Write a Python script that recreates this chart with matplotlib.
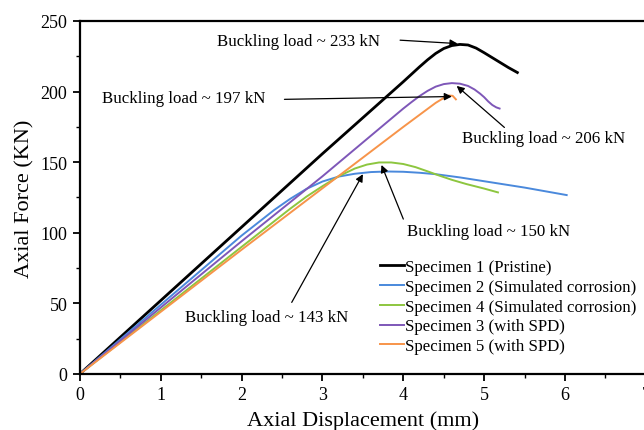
import matplotlib
matplotlib.use("Agg")
import matplotlib.pyplot as plt
from matplotlib.ticker import MultipleLocator

plt.rcParams['font.family'] = ['Liberation Serif', 'DejaVu Serif']

# Data
s1_x = [0, 1, 2, 3, 4, 4.2, 4.3, 4.4, 4.5, 4.6, 4.7, 4.8, 4.9, 5.0, 5.1, 5.2, 5.3, 5.41]
s1_y = [0, 52, 104, 156, 207, 217.5, 222.5, 227, 230.5, 232.6, 233.4, 233, 230.8, 227.5, 224, 220.5, 217, 213.5]

s2_x = [0, 1, 2, 2.2, 2.4, 2.6, 2.8, 3.0, 3.2, 3.4, 3.6, 3.8, 4.0, 4.2, 4.4, 4.7, 5.0, 5.5, 6.02]
s2_y = [0, 49, 98, 107, 116, 124, 131, 136.3, 139.8, 141.8, 143, 143.4, 143.2, 142.5, 141.5, 139.2, 136.5, 132, 126.7]

s4_x = [0, 1, 2, 2.6, 2.8, 3.0, 3.2, 3.4, 3.55, 3.7, 3.85, 4.0, 4.15, 4.3, 4.45, 4.6, 4.78, 5.0, 5.17]
s4_y = [0, 45, 90, 117, 125.5, 133, 140, 145.5, 148.3, 149.8, 149.8, 148.7, 146.5, 143.5, 140.4, 137.5, 134.5, 131.3, 128.6]

s3_x = [0, 1, 2, 3, 4.0, 4.1, 4.2, 4.3, 4.4, 4.5, 4.6, 4.7, 4.8, 4.88, 4.95, 5.0, 5.05, 5.1, 5.15, 5.19]
s3_y = [0, 47, 94, 140, 188, 192.5, 196.8, 200.5, 203.5, 205.3, 206, 205.6, 204, 201.5, 198.5, 196, 193, 190.5, 188.8, 188]

s5_x = [0, 1, 2, 3, 4, 4.4, 4.5, 4.56, 4.61, 4.65]
s5_y = [0, 44, 88, 131.5, 175, 192, 195.5, 197.2, 197, 194.5]

labels = ["Specimen 1 (Pristine)", "Specimen 2 (Simulated corrosion)",
          "Specimen 4 (Simulated corrosion)", "Specimen 3 (with SPD)",
          "Specimen 5 (with SPD)"]
colors = ["#000000", "#4a89dc", "#8dc63f", "#7e57b8", "#f7944a"]

annot_text = ["Buckling load ~ 233 kN", "Buckling load ~ 197 kN",
              "Buckling load ~ 206 kN", "Buckling load ~ 150 kN",
              "Buckling load ~ 143 kN"]

fig = plt.figure(figsize=(6.44, 4.31), dpi=100)
ax = fig.add_axes([0.124, 0.130, 0.879, 0.819])

series = [(s1_x, s1_y), (s2_x, s2_y), (s4_x, s4_y), (s3_x, s3_y), (s5_x, s5_y)]
widths = [2.0, 1.4, 1.4, 1.4, 1.4]
for (xs, ys), lab, c, w in zip(series, labels, colors, widths):
    ax.plot(xs, ys, color=c, lw=w, label=lab, solid_joinstyle='round')

ax.set_xlim(0, 7)
ax.set_ylim(0, 250)
ax.xaxis.set_major_locator(MultipleLocator(1))
ax.xaxis.set_minor_locator(MultipleLocator(0.5))
ax.yaxis.set_major_locator(MultipleLocator(50))
ax.yaxis.set_minor_locator(MultipleLocator(25))
ax.tick_params(which='major', direction='out', length=5, width=1.3, labelsize=13, pad=4)
ax.tick_params(which='minor', direction='out', length=3, width=1.0)
for sp in ax.spines.values():
    sp.set_linewidth(1.6)

ax.set_xlabel("Axial Displacement (mm)", fontsize=16, labelpad=5)
ax.set_ylabel("Axial Force (KN)", fontsize=16, labelpad=4)

fs = 12.2
arrow = dict(arrowstyle='-|>', color='black', lw=0.9, mutation_scale=11,
             shrinkA=0, shrinkB=0)
ax.text(1.69, 235.7, annot_text[0], fontsize=fs, va='center', ha='left')
ax.annotate("", xy=(4.67, 234), xytext=(3.96, 236.4), arrowprops=arrow)

ax.text(0.28, 195.8, annot_text[1], fontsize=fs, va='center', ha='left')
ax.annotate("", xy=(4.60, 196.5), xytext=(2.53, 194.5), arrowprops=arrow)

ax.text(4.73, 167.0, annot_text[2], fontsize=fs, va='center', ha='left')
ax.annotate("", xy=(4.66, 204), xytext=(5.25, 174.6), arrowprops=arrow)

ax.text(4.04, 101.5, annot_text[3], fontsize=fs, va='center', ha='left')
ax.annotate("", xy=(3.73, 148), xytext=(4.0, 109.7), arrowprops=arrow)

ax.text(1.30, 40.5, annot_text[4], fontsize=fs, va='center', ha='left')
ax.annotate("", xy=(3.50, 141.5), xytext=(2.62, 50.7), arrowprops=arrow)

ax.legend(loc='upper left', bbox_to_anchor=(0.53, 0.325), frameon=False,
          fontsize=fs, handlelength=1.4, handletextpad=0.1, labelspacing=0.22,
          borderaxespad=0, borderpad=0)

fig.savefig("out.png", dpi=100)
